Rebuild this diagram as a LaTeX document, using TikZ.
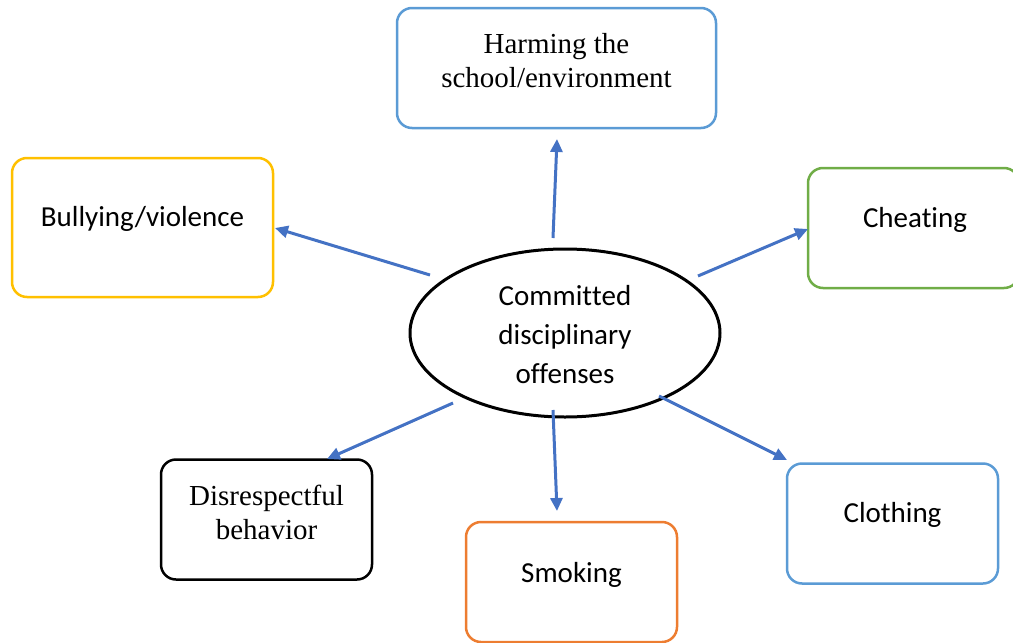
\documentclass[tikz,border=0pt]{standalone}
\usepackage{fontspec}
\setmainfont{Liberation Serif}
\newfontfamily\calibri[RawFeature={-liga;-clig;-dlig;-calt}]{Carlito}
\usetikzlibrary{arrows.meta,shapes.geometric}
\definecolor{boxblue}{HTML}{5B9BD5}
\definecolor{boxgold}{HTML}{FFC000}
\definecolor{boxgreen}{HTML}{70AD47}
\definecolor{boxorange}{HTML}{ED7D31}
\definecolor{arrblue}{HTML}{4472C4}
\tikzset{
  box/.style={draw=#1, line width=1.25pt, rounded corners=7.5pt, minimum width=105.5pt, minimum height=60pt, inner sep=0pt},
  sanstxt/.style={font=\calibri\fontsize{14.5pt}{19.5pt}\selectfont, align=center, inner sep=0pt},
  seriftxt/.style={font=\fontsize{14.5pt}{17pt}\selectfont, align=center, inner sep=0pt},
  arr/.style={draw=arrblue, line width=1.5pt, -{Triangle[length=6.5pt,width=6pt]}},
}
\begin{document}
\begin{tikzpicture}[x=0.5pt,y=-0.5pt]
\useasboundingbox (0,0) rectangle (1013,643);
% boxes
\node[box=boxblue, minimum width=159.5pt] (harm) at (556.5,68) {};
\node[seriftxt] (harmt) at (556.5,61) {Harming the\\school/environment};
\node[box=boxgold, minimum width=130.5pt, minimum height=69.5pt] (bully) at (142.5,227.5) {};
\node[sanstxt] (bullyt) at (142.5,219) {Bullying/violence};
\node[box=boxgreen] (cheat) at (913.5,228) {};
\node[sanstxt] (cheatt) at (915,220) {Cheat\kern0pt ing};
\node[box=black] (disr) at (266.5,519.5) {};
\node[seriftxt] (disrt) at (266.5,512) {Disrespectful\\behavior};
\node[box=boxorange] (smoke) at (571.5,582) {};
\node[sanstxt] (smoket) at (571.5,575) {Smoking};
\node[box=boxblue] (cloth) at (892.5,523.5) {};
\node[sanstxt] (clotht) at (892.5,515) {Clothing};
% ellipse
\node[draw, ellipse, line width=1.5pt, minimum width=155pt, minimum height=84pt, inner sep=0pt] (core) at (565,333) {};
\node[sanstxt] (coret) at (565,335) {Commit\kern0pt ted\\disciplinary\\offenses};
% arrow ends
\coordinate (s1) at (553,238); \coordinate (e1) at (557,139);
\coordinate (s2) at (430,275); \coordinate (e2) at (275,228);
\coordinate (s3) at (698,276); \coordinate (e3) at (808,229);
\coordinate (s4) at (453,403); \coordinate (e4) at (327,459);
\coordinate (s5) at (553,410); \coordinate (e5) at (557,511);
\coordinate (s6) at (659,396); \coordinate (e6) at (787,460);
\draw[arr] (s1) -- (e1);
\draw[arr] (s2) -- (e2);
\draw[arr] (s3) -- (e3);
\draw[arr] (s4) -- (e4);
\draw[arr] (s5) -- (e5);
\draw[arr] (s6) -- (e6);
\end{tikzpicture}
\end{document}
